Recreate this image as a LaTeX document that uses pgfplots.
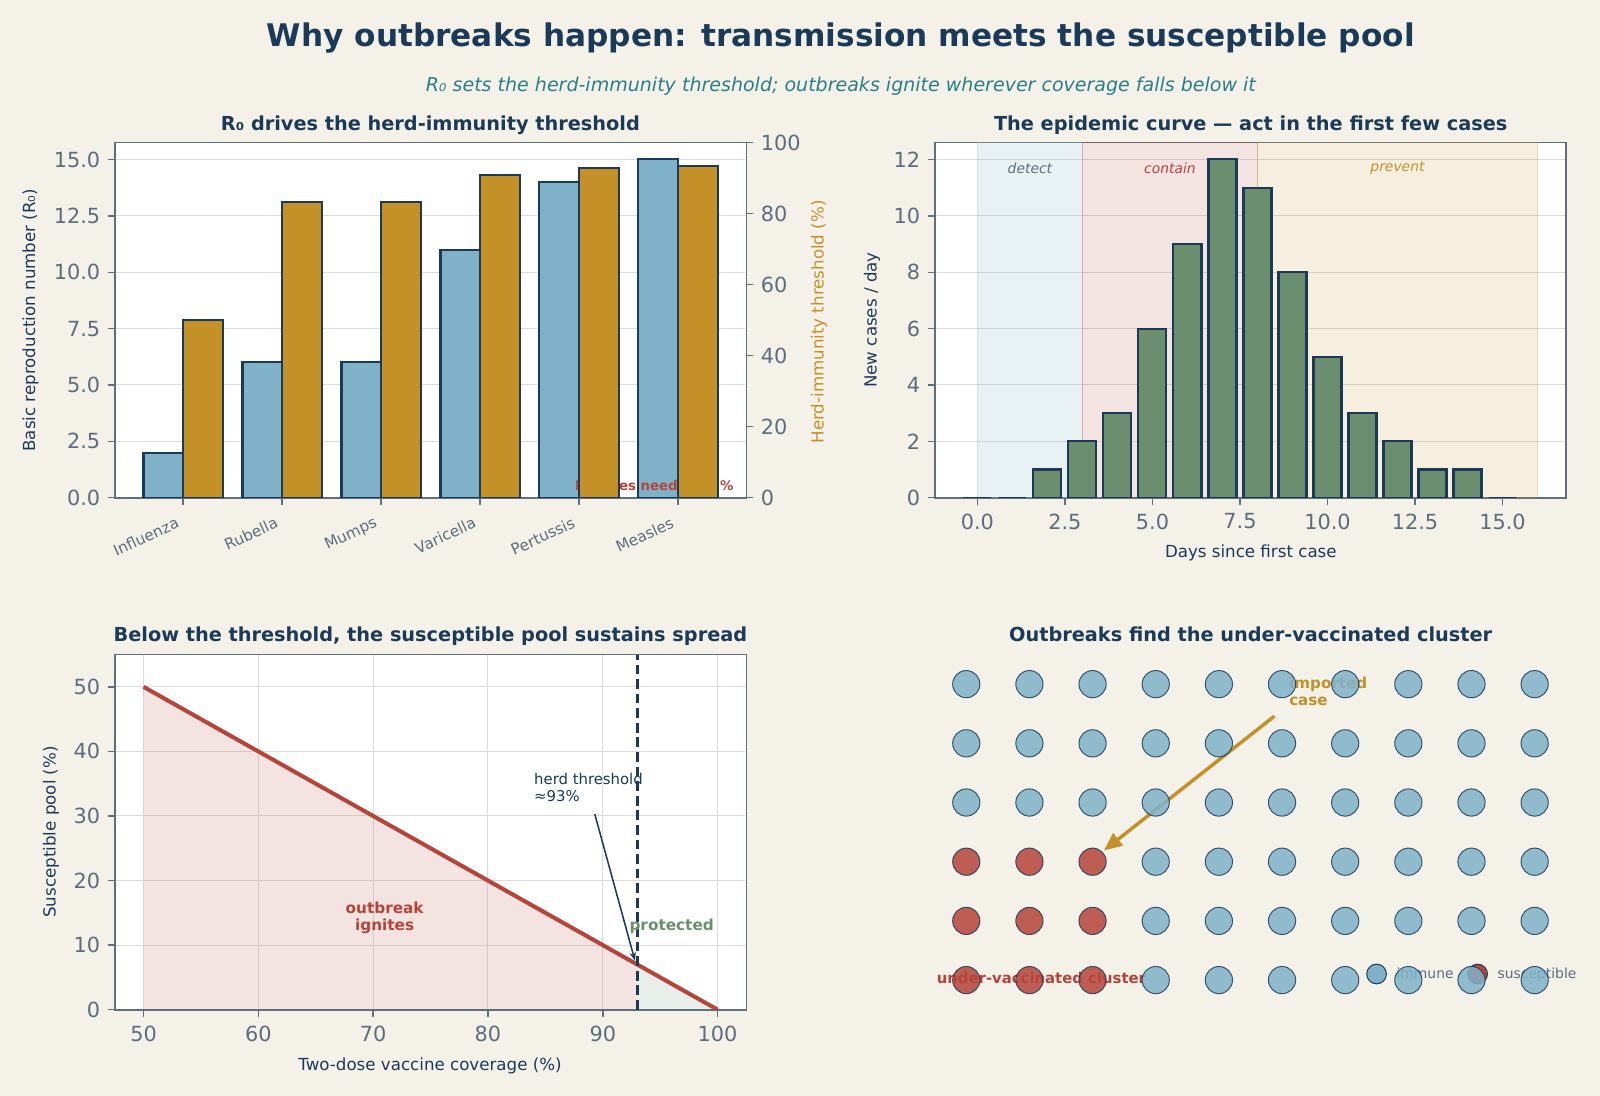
\documentclass[border=0pt]{standalone}
\usepackage{fontspec}
\setmainfont{DejaVu Sans}
\usepackage{pgfplots}
\pgfplotsset{compat=1.18}
\usetikzlibrary{arrows.meta}

\definecolor{bg}{HTML}{F4F1E9}
\definecolor{navy}{HTML}{1B3A57}
\definecolor{tickgrey}{HTML}{5D6D7E}
\definecolor{spine}{HTML}{5F6F7F}
\definecolor{gridc}{HTML}{DCDCDC}
\definecolor{blueb}{HTML}{7FB2C9}
\definecolor{spanblue}{HTML}{8CC0CC}
\definecolor{goldb}{HTML}{C49028}
\definecolor{greenb}{HTML}{6B8F6E}
\definecolor{redc}{HTML}{B5443A}
\definecolor{tealc}{HTML}{2A7F86}

\pgfplotsset{
  panel/.style={
    scale only axis, width=454.7pt, height=255.7pt, anchor=south west,
    axis line style={spine, line width=1.2pt},
    tick style={spine, line width=1pt},
    major tick length=5pt,
    tick align=outside,
    tick label style={font=\fontsize{15}{18}\selectfont, text=tickgrey},
    /pgf/number format/assume math mode=true,
    grid style={gridc, line width=0.7pt},
  },
  leftbottom/.style={tick pos=left,
    yticklabel style={xshift=-2pt}, xticklabel style={yshift=-3pt}},
  whitebg/.style={axis background/.style={fill=white}},
  onedec/.style={/pgf/number format/.cd, fixed, fixed zerofill, precision=1},
}

\begin{document}
\begin{tikzpicture}
\fill[bg] (0,0) rectangle (1152pt,789.12pt);

% ---------- titles ----------
\node[anchor=base, text=navy, font=\fontsize{22.45}{27}\selectfont\bfseries] at (605.4pt,755.5pt)
  {Why outbreaks happen: transmission meets the susceptible pool};
\node[anchor=base, text=tealc, font=\fontsize{13.7}{16}\selectfont\itshape] at (605.4pt,723.1pt)
  {R₀ sets the herd-immunity threshold; outbreaks ignite wherever coverage falls below it};

\node[anchor=base, text=navy, font=\fontsize{13.9}{16}\selectfont\bfseries] at (309.9pt,694.9pt)
  {R₀ drives the herd-immunity threshold};
\node[anchor=base, text=navy, font=\fontsize{13.9}{16}\selectfont\bfseries] at (900.5pt,694.9pt)
  {The epidemic curve — act in the first few cases};
\node[anchor=base, text=navy, font=\fontsize{13.9}{16}\selectfont\bfseries] at (309.9pt,327.2pt)
  {Below the threshold, the susceptible pool sustains spread};
\node[anchor=base, text=navy, font=\fontsize{13.9}{16}\selectfont\bfseries] at (900.5pt,327.2pt)
  {Outbreaks find the under-vaccinated cluster};

% ---------- axis labels ----------
\node[rotate=90, text=navy, font=\fontsize{12}{14}\selectfont] at (22.0pt,558.6pt)
  {Basic reproduction number (R₀)};
\node[rotate=90, text=goldb, font=\fontsize{12}{14}\selectfont] at (589.7pt,557.3pt)
  {Herd-immunity threshold (\%)};
\node[rotate=90, text=navy, font=\fontsize{12}{14}\selectfont] at (627.8pt,558.7pt)
  {New cases / day};
\node[anchor=base, text=navy, font=\fontsize{12}{14}\selectfont] at (900.6pt,387.6pt)
  {Days since first case};
\node[anchor=base, text=navy, font=\fontsize{12}{14}\selectfont] at (309.6pt,18.4pt)
  {Two-dose vaccine coverage (\%)};
\node[rotate=90, text=navy, font=\fontsize{12}{14}\selectfont] at (36.7pt,190.1pt)
  {Susceptible pool (\%)};

% ---------- panel 1: R0 (left axis) ----------
\begin{axis}[panel, leftbottom, whitebg, at={(82.66pt,430.78pt)},
  xmin=-0.69, xmax=5.69, ymin=0, ymax=15.75,
  xtick={0,...,5},
  xticklabels={Influenza,Rubella,Mumps,Varicella,Pertussis,Measles},
  xticklabel style={rotate=25, anchor=north east, xshift=-4pt, yshift=1pt,
    font=\fontsize{11}{13}\selectfont, text=tickgrey},
  ytick={0,2.5,5,7.5,10,12.5,15},
  yticklabel style={onedec},
  ymajorgrids,
]
\addplot[ybar, bar width=0.4, bar shift=-0.2, fill=blueb, draw=navy, line width=1.5pt]
  coordinates {(0,2) (1,6) (2,6) (3,11) (4,14) (5,15)};
\node[anchor=south east, inner sep=0pt, text=redc, font=\fontsize{9.6}{11}\selectfont\bfseries]
  at (axis description cs:0.98,0.02) {Measles needs ≈93\%};
\end{axis}

% ---------- panel 1: threshold (right axis) ----------
\begin{axis}[panel, at={(82.66pt,430.78pt)},
  xmin=-0.69, xmax=5.69, ymin=0, ymax=100,
  axis y line*=right, axis x line=none,
  ytick pos=right, yticklabel pos=right,
  yticklabel style={xshift=2pt},
  ytick={0,20,40,60,80,100},
]
\addplot[ybar, bar width=0.4, bar shift=0.2, fill=goldb, draw=navy, line width=1.5pt]
  coordinates {(0,50) (1,83.3) (2,83.3) (3,90.9) (4,92.9) (5,93.3)};
\end{axis}

% ---------- panel 2: epidemic curve ----------
\begin{axis}[panel, leftbottom, whitebg, at={(672.98pt,430.78pt)},
  xmin=-1.22, xmax=16.82, ymin=0, ymax=12.6,
  xtick={0,2.5,5,7.5,10,12.5,15},
  xticklabel style={onedec},
  ytick={0,2,4,6,8,10,12},
  ymajorgrids,
]
\addplot[draw=spanblue, fill=spanblue, fill opacity=0.2, draw opacity=0.3, line width=1pt]
  coordinates {(0,12.6) (3,12.6)} \closedcycle;
\addplot[draw=redc, fill=redc, fill opacity=0.15, draw opacity=0.25, line width=1pt]
  coordinates {(3,12.6) (8,12.6)} \closedcycle;
\addplot[draw=goldb, fill=goldb, fill opacity=0.15, draw opacity=0.25, line width=1pt]
  coordinates {(8,12.6) (16,12.6)} \closedcycle;
\addplot[ybar, bar width=0.8, fill=greenb, draw=navy, line width=1.5pt]
  coordinates {(0,0) (1,0) (2,1) (3,2) (4,3) (5,6) (6,9) (7,12) (8,11) (9,8)
               (10,5) (11,3) (12,2) (13,1) (14,1) (15,0)};
\node[text=tickgrey, font=\fontsize{10}{12}\selectfont\itshape] at (axis cs:1.5,11.7) {detect};
\node[text=redc, font=\fontsize{10}{12}\selectfont\itshape] at (axis cs:5.5,11.7) {contain};
\node[text=goldb, font=\fontsize{10}{12}\selectfont\itshape] at (axis cs:12,11.7) {prevent};
\end{axis}

% ---------- panel 3: susceptible pool ----------
\begin{axis}[panel, leftbottom, whitebg, at={(82.66pt,62.14pt)},
  xmin=47.5, xmax=102.5, ymin=0, ymax=55,
  xtick={50,60,70,80,90,100},
  ytick={0,10,20,30,40,50},
  xmajorgrids, ymajorgrids,
]
\addplot[fill=redc, fill opacity=0.15, draw=none] coordinates {(50,50) (93,7)} \closedcycle;
\addplot[fill=greenb, fill opacity=0.15, draw=none] coordinates {(93,7) (100,0)} \closedcycle;
\addplot[redc, line width=2.9pt] coordinates {(50,50) (100,0)};
\addplot[navy, line width=1.8pt, dash pattern=on 7pt off 3.5pt] coordinates {(93,0) (93,55)};
\draw[-{Stealth[length=6pt,width=4.5pt]}, navy, line width=1.1pt]
  (axis cs:89.3,30.3) -- (axis cs:92.8,7.6);
\node[anchor=north west, inner sep=0pt, align=left, text=navy, font=\fontsize{10.7}{12}\selectfont]
  at (axis cs:84,36.6) {herd threshold\\≈93\%};
\node[align=center, text=redc, font=\fontsize{11}{12}\selectfont\bfseries]
  at (axis cs:71,14.2) {outbreak\\ignites};
\node[text=greenb, font=\fontsize{11}{13}\selectfont\bfseries] at (axis cs:96,12.9) {protected};
\end{axis}

% ---------- panel 4: legend (drawn beneath the dots) ----------
\begin{axis}[at={(672.98pt,62.14pt)}, anchor=south west, scale only axis,
  width=454.7pt, height=255.7pt, hide axis,
  xmin=-0.5, xmax=9.5, ymin=-0.5, ymax=5.5,
  legend columns=2,
  legend image code/.code={\path[draw=none,fill=none] (-17.25pt,0pt) -- (14.4pt,0pt);
                           \path[#1] plot[only marks] coordinates {(0pt,0pt)};},
  legend style={draw=none, fill=none, inner sep=0pt, at={(0.6613,0.1005)}, anchor=west,
    nodes={inner sep=0pt, text=tickgrey, font=\fontsize{10}{12}\selectfont},
    cells={anchor=west}},
]
\addlegendimage{only marks, mark=*, mark size=7.1pt, mark options={fill=blueb, draw=navy, line width=0.7pt}}
\addlegendentry{immune}
\addlegendimage{only marks, mark=*, mark size=7.1pt, mark options={fill=redc, draw=navy, line width=0.7pt}}
\addlegendentry{susceptible}
\end{axis}

% ---------- panel 4: population grid ----------
\begin{axis}[at={(672.98pt,62.14pt)}, anchor=south west, scale only axis,
  width=454.7pt, height=255.7pt, hide axis, clip=false,
  xmin=-0.5, xmax=9.5, ymin=-0.5, ymax=5.5,
]
\addplot[only marks, mark=*, mark size=9.8pt,
  mark options={fill=blueb, draw=navy, fill opacity=0.85, draw opacity=0.85, line width=0.7pt}]
  table {
x y
3 0
4 0
5 0
6 0
7 0
8 0
9 0
3 1
4 1
5 1
6 1
7 1
8 1
9 1
3 2
4 2
5 2
6 2
7 2
8 2
9 2
0 3
1 3
2 3
3 3
4 3
5 3
6 3
7 3
8 3
9 3
0 4
1 4
2 4
3 4
4 4
5 4
6 4
7 4
8 4
9 4
0 5
1 5
2 5
3 5
4 5
5 5
6 5
7 5
8 5
9 5
};
\addplot[only marks, mark=*, mark size=9.8pt,
  mark options={fill=redc, draw=navy, fill opacity=0.85, draw opacity=0.85, line width=0.7pt}]
  table {
x y
0 0
1 0
2 0
0 1
1 1
2 1
0 2
1 2
2 2
};
\draw[-{Triangle[length=13pt,width=11pt]}, goldb, line width=2.5pt]
  (axis cs:4.88,4.46) -- (axis cs:2.18,2.19);
\node[anchor=west, inner sep=0pt, align=left, text=goldb, font=\fontsize{10.9}{12}\selectfont\bfseries]
  at (axis cs:5.11,4.88) {imported\\case};
\node[inner sep=0pt, text=redc, font=\fontsize{10.7}{13}\selectfont\bfseries]
  at (axis cs:1.19,0.04) {under-vaccinated cluster};
\end{axis}

\pgfresetboundingbox
\path (0,0) rectangle (1152pt,789.12pt);
\end{tikzpicture}
\end{document}
